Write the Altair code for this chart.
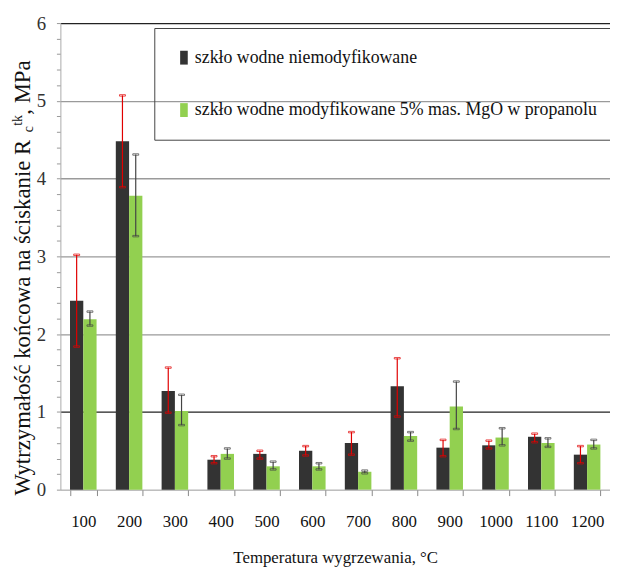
import altair as alt
import pandas as pd

temps = ["100", "200", "300", "400", "500", "600", "700", "800", "900", "1000", "1100", "1200"]
series = ["szkło wodne niemodyfikowane", "szkło wodne modyfikowane 5% mas. MgO w propanolu"]

unmod = [2.43, 4.48, 1.27, 0.385, 0.46, 0.50, 0.60, 1.33, 0.54, 0.57, 0.68, 0.45]
unmod_lo = [1.84, 3.89, 0.99, 0.34, 0.40, 0.44, 0.45, 0.94, 0.43, 0.53, 0.61, 0.34]
unmod_hi = [3.02, 5.07, 1.57, 0.43, 0.50, 0.56, 0.74, 1.69, 0.64, 0.63, 0.72, 0.56]

mod = [2.19, 3.78, 1.01, 0.46, 0.30, 0.30, 0.23, 0.69, 1.07, 0.67, 0.60, 0.58]
mod_lo = [2.11, 3.26, 0.83, 0.40, 0.26, 0.26, 0.21, 0.63, 0.78, 0.57, 0.55, 0.53]
mod_hi = [2.29, 4.31, 1.22, 0.53, 0.36, 0.34, 0.245, 0.74, 1.39, 0.79, 0.66, 0.64]

y_ticks = [0, 0.2, 0.4, 0.6, 0.8, 1, 1.2, 1.4, 1.6, 1.8, 2, 2.2, 2.4, 2.6, 2.8, 3,
           3.2, 3.4, 3.6, 3.8, 4, 4.2, 4.4, 4.6, 4.8, 5, 5.2, 5.4, 5.6, 5.8, 6]

# y-axis title pieces: (text, kind) -> main / sub / sup
y_title_parts = [
    ("Wytrzymałość  końcowa na ściskanie R", "main"),
    ("c", "sub"),
    ("tk", "sup"),
    (", MPa", "main"),
]

bar_colors = ["#333333", "#92D050"]
bar_strokes = ["#111111", "#a8dc72"]
err_colors = ["#e00000", "#444444"]

rows = []
for i, t in enumerate(temps):
    rows.append({"temp": t, "series": series[0], "value": unmod[i], "lo": unmod_lo[i], "hi": unmod_hi[i]})
    rows.append({"temp": t, "series": series[1], "value": mod[i], "lo": mod_lo[i], "hi": mod_hi[i]})
df = pd.DataFrame(rows)

FONT = "Liberation Serif"

# Times/Liberation Serif advance widths (per 1000 em) for laying out the rotated title pieces
W = {"W": 944, "y": 500, "t": 278, "r": 333, "z": 444, "m": 778, "a": 444, "ł": 278, "o": 500,
     "ś": 389, "ć": 444, " ": 250, "k": 500, "ń": 500, "c": 444, "w": 722, "n": 500, "s": 389,
     "i": 278, "e": 444, "R": 667, ",": 250, "M": 889, "P": 556}


def text_width(s, size):
    return sum(W.get(ch, 500) for ch in s) * size / 1000.0


x_enc = alt.X(
    "temp:N",
    sort=temps,
    scale=alt.Scale(paddingInner=0.42, paddingOuter=0.21),
    axis=alt.Axis(
        title="Temperatura wygrzewania, °C",
        labelAngle=0,
        labelFont=FONT,
        labelFontSize=17,
        labelColor="#111111",
        labelPadding=18,
        tickBand="extent",
        tickSize=6,
        tickColor="#888888",
        domainColor="#999999",
        titleFont=FONT,
        titleFontSize=17,
        titleFontWeight="normal",
        titleColor="#111111",
        titlePadding=21,
        grid=False,
    ),
)
xoff = alt.XOffset("series:N", sort=series, scale=alt.Scale(domain=series))

y_axis = alt.Axis(
    values=y_ticks,
    tickCount=100,
    labelOverlap=False,
    labelExpr="datum.value % 1 === 0 ? format(datum.value, 'd') : ''",
    title=None,
    labelFont=FONT,
    labelFontSize=19,
    labelColor="#333333",
    labelPadding=11,
    tickSize=4,
    tickColor="#999999",
    domainColor="#aaaaaa",
    grid=True,
    gridColor={"condition": {"test": "datum.value === 1 || datum.value === 6", "value": "#222222"}, "value": "#9a9a9a"},
    gridOpacity={"condition": {"test": "datum.value % 1 === 0 && datum.value > 0", "value": 1}, "value": 0},
    gridWidth=1.3,
)
y_scale = alt.Scale(domain=[0, 6], nice=False)

bars = alt.Chart(df).mark_bar(strokeWidth=0.8).encode(
    x=x_enc,
    xOffset=xoff,
    y=alt.Y("value:Q", scale=y_scale, axis=y_axis),
    color=alt.Color(
        "series:N",
        sort=series,
        scale=alt.Scale(domain=series, range=bar_colors),
        legend=alt.Legend(
            orient="none",
            legendX=95,
            legendY=5,
            title=None,
            direction="vertical",
            strokeColor="#444444",
            padding=21,
            rowPadding=35,
            labelFont=FONT,
            labelFontSize=18,
            labelColor="#111111",
            labelLimit=700,
            labelOffset=2,
            symbolType="M-0.55,-1H0.55V1H-0.55Z",
            symbolSize=196,
            symbolStrokeWidth=0,
        ),
    ),
)

err_stroke = alt.Stroke(
    "series:N",
    sort=series,
    scale=alt.Scale(domain=series, range=err_colors),
    legend=None,
)

rules = alt.Chart(df).mark_rule(strokeWidth=1.2).encode(
    x=alt.X("temp:N", sort=temps),
    xOffset=xoff,
    y=alt.Y("lo:Q", scale=y_scale),
    y2="hi:Q",
    stroke=err_stroke,
)
cap_hi = alt.Chart(df).mark_tick(thickness=1.5, size=6).encode(
    x=alt.X("temp:N", sort=temps),
    xOffset=xoff,
    y=alt.Y("hi:Q", scale=y_scale),
    stroke=err_stroke,
    color=alt.value(None),
)
cap_lo = alt.Chart(df).mark_tick(thickness=1.5, size=6).encode(
    x=alt.X("temp:N", sort=temps),
    xOffset=xoff,
    y=alt.Y("lo:Q", scale=y_scale),
    stroke=err_stroke,
    color=alt.value(None),
)

# rotated y title assembled from pieces (sub/superscript)
MAIN_SIZE = 23
SMALL_SIZE = 14
BASE_X = -31
cursor = 478.0
title_layers = []
for txt, kind in y_title_parts:
    size = MAIN_SIZE if kind == "main" else SMALL_SIZE
    xoff_px = {"main": 0, "sub": 3, "sup": -8}[kind]
    title_layers.append(
        alt.Chart(pd.DataFrame({"t": [txt]}))
        .mark_text(angle=270, align="left", baseline="alphabetic", font=FONT,
                   fontSize=size, color="#111111")
        .encode(text="t:N", x=alt.value(BASE_X + xoff_px), y=alt.value(cursor))
    )
    cursor -= text_width(txt, size) + 0.3

chart = (
    alt.layer(bars, rules, cap_hi, cap_lo, *title_layers)
    .resolve_scale(color="independent", stroke="independent")
    .properties(
        width=556,
        height=472,
        autosize=alt.AutoSizeParams(type="none"),
        padding={"left": 53, "top": 12, "right": 0, "bottom": 75},
    )
    .configure(font=FONT)
    .configure_view(stroke=None)
)

chart.save("out.html", embed_options={"renderer": "svg", "actions": False})
